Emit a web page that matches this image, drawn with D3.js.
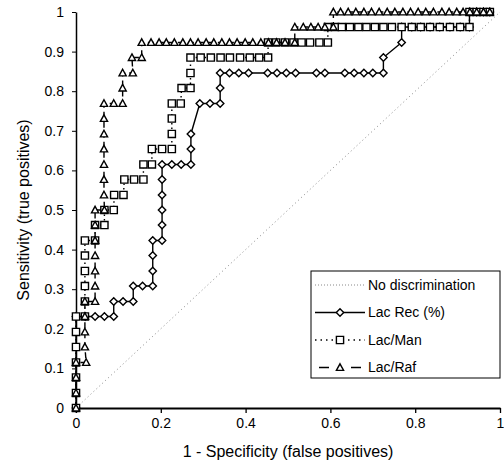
<!DOCTYPE html>
<html>
<head>
<meta charset="utf-8">
<script src="https://cdn.jsdelivr.net/npm/d3@7"></script>
<style>
  body { margin: 0; background: #fff; }
  text { font-family: "Liberation Sans", Arial, sans-serif; fill: #000; }
</style>
</head>
<body>
<div id="chart"></div>
<script>
// ROC points: [1 - specificity, sensitivity]
const lacRec = [
  [0, 0], [0, 0.231], [0.022, 0.231], [0.045, 0.231], [0.067, 0.231], [0.089, 0.231],
  [0.089, 0.269], [0.111, 0.269], [0.135, 0.269],
  [0.135, 0.308], [0.157, 0.308], [0.181, 0.308],
  [0.181, 0.346], [0.181, 0.385], [0.181, 0.423], [0.203, 0.423],
  [0.203, 0.462], [0.203, 0.5], [0.203, 0.538], [0.203, 0.577], [0.203, 0.615],
  [0.226, 0.615], [0.248, 0.615], [0.271, 0.615],
  [0.271, 0.654], [0.271, 0.692],
  [0.292, 0.769], [0.316, 0.769], [0.340, 0.769],
  [0.340, 0.808], [0.340, 0.846],
  [0.362, 0.846], [0.384, 0.846], [0.407, 0.846], [0.452, 0.846], [0.474, 0.846],
  [0.496, 0.846], [0.518, 0.846], [0.567, 0.846], [0.587, 0.846], [0.634, 0.846],
  [0.656, 0.846], [0.679, 0.846], [0.700, 0.846], [0.725, 0.846],
  [0.725, 0.885], [0.768, 0.923], [0.768, 0.962],
  [0.792, 0.962], [0.813, 0.962], [0.835, 0.962], [0.858, 0.962], [0.882, 0.962],
  [0.906, 0.962], [0.928, 0.962],
  [0.928, 1], [0.945, 1], [0.961, 1], [0.976, 1]
];

const lacMan = [
  [0, 0], [0, 0.038], [0, 0.077], [0, 0.115], [0, 0.154], [0, 0.192], [0, 0.231],
  [0.021, 0.231], [0.021, 0.269], [0.021, 0.308], [0.021, 0.346], [0.021, 0.385], [0.021, 0.423],
  [0.045, 0.423], [0.045, 0.462], [0.067, 0.462], [0.067, 0.5], [0.089, 0.5],
  [0.090, 0.538], [0.112, 0.538],
  [0.114, 0.577], [0.137, 0.577], [0.159, 0.577],
  [0.159, 0.615], [0.179, 0.615],
  [0.179, 0.654], [0.203, 0.654], [0.226, 0.654],
  [0.226, 0.692], [0.226, 0.731], [0.226, 0.769], [0.247, 0.769],
  [0.249, 0.808], [0.270, 0.808], [0.270, 0.846],
  [0.270, 0.885], [0.294, 0.885], [0.318, 0.885], [0.341, 0.885], [0.363, 0.885],
  [0.387, 0.885], [0.410, 0.885], [0.432, 0.885], [0.453, 0.885],
  [0.453, 0.923], [0.472, 0.923], [0.493, 0.923], [0.513, 0.923], [0.532, 0.923],
  [0.552, 0.923], [0.574, 0.923], [0.594, 0.923],
  [0.594, 0.962], [0.611, 0.962], [0.627, 0.962], [0.646, 0.962], [0.666, 0.962],
  [0.685, 0.962], [0.705, 0.962], [0.725, 0.962], [0.745, 0.962], [0.768, 0.962],
  [0.792, 0.962], [0.813, 0.962], [0.835, 0.962], [0.858, 0.962], [0.882, 0.962],
  [0.906, 0.962], [0.928, 0.962],
  [0.928, 1], [0.945, 1], [0.961, 1], [0.976, 1]
];

const lacRaf = [
  [0, 0], [0, 0.038], [0, 0.077], [0, 0.115], [0.024, 0.115],
  [0.021, 0.154], [0.021, 0.192], [0.021, 0.231], [0.021, 0.269],
  [0.045, 0.269], [0.045, 0.308], [0.045, 0.346], [0.045, 0.385], [0.045, 0.423],
  [0.045, 0.462], [0.045, 0.5], [0.067, 0.5],
  [0.066, 0.538], [0.066, 0.577], [0.066, 0.615], [0.066, 0.654], [0.066, 0.692],
  [0.066, 0.731], [0.066, 0.769], [0.089, 0.769], [0.110, 0.769],
  [0.110, 0.808], [0.110, 0.846], [0.134, 0.846],
  [0.132, 0.885], [0.155, 0.885],
  [0.155, 0.923], [0.177, 0.923], [0.196, 0.923], [0.213, 0.923], [0.232, 0.923],
  [0.252, 0.923], [0.270, 0.923], [0.288, 0.923], [0.307, 0.923], [0.325, 0.923],
  [0.344, 0.923], [0.362, 0.923], [0.380, 0.923], [0.399, 0.923], [0.417, 0.923],
  [0.436, 0.923], [0.454, 0.923], [0.473, 0.923], [0.493, 0.923], [0.516, 0.923],
  [0.516, 0.962], [0.536, 0.962], [0.554, 0.962], [0.571, 0.962], [0.587, 0.962], [0.607, 0.962],
  [0.607, 1], [0.624, 1], [0.642, 1], [0.660, 1], [0.679, 1], [0.697, 1], [0.715, 1],
  [0.734, 1], [0.752, 1], [0.771, 1], [0.789, 1], [0.807, 1], [0.825, 1], [0.843, 1],
  [0.863, 1], [0.880, 1], [0.898, 1], [0.913, 1], [0.929, 1], [0.945, 1], [0.961, 1], [0.976, 1]
];

const noDiscrimination = [[0, 0], [1, 1]];
const xTicks = [0, 0.2, 0.4, 0.6, 0.8, 1];
const yTicks = [0, 0.1, 0.2, 0.3, 0.4, 0.5, 0.6, 0.7, 0.8, 0.9, 1];
const legendLabels = ["No discrimination", "Lac Rec (%)", "Lac/Man", "Lac/Raf"];

const margin = { top: 12, right: 4, bottom: 67, left: 76 },
    width = 424,
    height = 396;

const root = d3.select("#chart")
    .append("svg")
    .attr("width", 504)
    .attr("height", 475);

const svg = root.append("g")
    .attr("transform", `translate(${margin.left}, ${margin.top})`);

const x = d3.scaleLinear().domain([0, 1]).range([0, width]);
const y = d3.scaleLinear().domain([0, 1]).range([height, 0]);

// axes
const xAxis = svg.append("g")
    .attr("transform", `translate(0, ${height})`)
    .call(d3.axisBottom(x).tickValues(xTicks).tickFormat(d3.format("~g")).tickSize(5).tickSizeOuter(0).tickPadding(5));
xAxis.selectAll("text").style("font-size", "14px");
xAxis.select(".domain").attr("stroke-width", 2);
xAxis.selectAll(".tick line").attr("stroke-width", 1.3);

const yAxis = svg.append("g")
    .call(d3.axisLeft(y).tickValues(yTicks).tickFormat(d3.format("~g")).tickSize(4).tickSizeOuter(0).tickPadding(8));
yAxis.selectAll("text").style("font-size", "14px");
yAxis.select(".domain").attr("stroke-width", 1.5);

// axis titles
svg.append("text")
    .attr("x", width / 2)
    .attr("y", height + 49)
    .attr("text-anchor", "middle")
    .style("font-size", "16px")
    .text("1 - Specificity (false positives)");

svg.append("text")
    .attr("transform", `translate(${23 - margin.left}, ${height / 2}) rotate(-90)`)
    .attr("text-anchor", "middle")
    .attr("dy", "0.35em")
    .style("font-size", "16px")
    .text("Sensitivity (true positives)");

const line = d3.line().x(d => x(d[0])).y(d => y(d[1]));

// diagonal reference
svg.append("path")
    .datum(noDiscrimination)
    .attr("d", line)
    .attr("fill", "none")
    .attr("stroke", "#888")
    .attr("stroke-width", 1)
    .attr("stroke-dasharray", "1,3");

const markers = {
    diamond: "M0,-3.7L3.7,0L0,3.7L-3.7,0Z",
    square: "M-3.6,-3.6h7.2v7.2h-7.2Z",
    triangle: "M0,-3.7L3.6,2.9L-3.6,2.9Z"
};

const series = [
    { data: lacRec, marker: "diamond", dash: null },
    { data: lacMan, marker: "square", dash: "1.5,3" },
    { data: lacRaf, marker: "triangle", dash: "6,4" }
];

for (const s of series) {
    svg.append("path")
        .datum(s.data)
        .attr("d", line)
        .attr("fill", "none")
        .attr("stroke", "#000")
        .attr("stroke-width", 1.4)
        .attr("stroke-dasharray", s.dash);
}

for (const s of series) {
    svg.append("g")
        .selectAll("path")
        .data(s.data)
        .join("path")
        .attr("transform", d => `translate(${x(d[0])}, ${y(d[1])})`)
        .attr("d", markers[s.marker])
        .attr("fill", "#fff")
        .attr("stroke", "#000")
        .attr("stroke-width", 1.4);
}

// legend
const legend = root.append("g").attr("transform", "translate(311, 271)");
legend.append("rect")
    .attr("width", 189)
    .attr("height", 107)
    .attr("fill", "#fff")
    .attr("stroke", "#000")
    .attr("stroke-width", 1);

const legendStyles = [
    { stroke: "#888", width: 1, dash: "1,2", marker: null },
    { stroke: "#000", width: 1.4, dash: null, marker: "diamond" },
    { stroke: "#000", width: 1.4, dash: "1.5,4", marker: "square" },
    { stroke: "#000", width: 1.4, dash: "0,4,10,22,10,30", marker: "triangle" }
];

legendLabels.forEach((label, i) => {
    const row = legend.append("g").attr("transform", `translate(0, ${14 + i * 27.5})`);
    const st = legendStyles[i];
    row.append("line")
        .attr("x1", 4).attr("x2", 54)
        .attr("stroke", st.stroke)
        .attr("stroke-width", st.width)
        .attr("stroke-dasharray", st.dash);
    if (st.marker) {
        row.append("path")
            .attr("transform", "translate(29, 0)")
            .attr("d", markers[st.marker])
            .attr("fill", "#fff")
            .attr("stroke", "#000")
            .attr("stroke-width", 1.4);
    }
    row.append("text")
        .attr("x", 57)
        .attr("dy", "0.35em")
        .style("font-size", "14px")
        .text(label);
});
</script>
</body>
</html>
